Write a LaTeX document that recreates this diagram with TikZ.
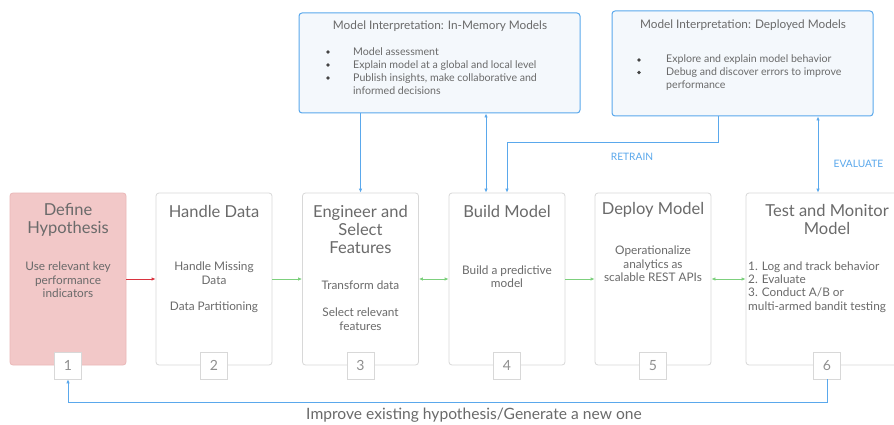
\documentclass[tikz,border=0pt]{standalone}
\usepackage{fontspec}
\setmainfont{Lato}
\usetikzlibrary{arrows.meta}
\definecolor{txt}{HTML}{6A6A6A}
\definecolor{boxline}{HTML}{D8D8D8}
\definecolor{pinkfill}{HTML}{F2C8C8}
\definecolor{pinkline}{HTML}{EAB8B8}
\definecolor{blueline}{HTML}{5AA8EC}
\definecolor{bluefill}{HTML}{F4F8FC}
\definecolor{greenarr}{HTML}{7DD07D}
\definecolor{redarr}{HTML}{D9333F}
\definecolor{bul}{HTML}{444444}
\begin{document}
\begin{tikzpicture}[x=1pt,y=-1pt,
  mainbox/.style={draw=boxline, line width=0.8pt, rounded corners=3pt, fill=white, minimum width=116pt, minimum height=172pt, inner sep=0pt},
  tagbox/.style={draw=boxline, line width=0.8pt, fill=white, minimum size=27pt, inner sep=0pt, text=txt!75, font=\fontsize{14}{14}\selectfont},
  ttl/.style={text=txt, align=center, font=\fontsize{16.5}{18}\selectfont, inner sep=0pt},
  body/.style={text=txt, align=center, font=\fontsize{11.8}{13.5}\selectfont, inner sep=0pt},
  topbox/.style={draw=blueline, line width=1pt, fill=bluefill, rounded corners=3pt, inner sep=0pt},
  toptext/.style={text=txt, align=left, font=\fontsize{10.6}{13}\selectfont, inner sep=0pt, anchor=west},
  toptitle/.style={text=txt, font=\fontsize{11.8}{13}\selectfont, inner sep=0pt},
  bullet/.style={circle, fill=bul, minimum size=3.6pt, inner sep=0pt},
  bluepath/.style={draw=blueline, line width=1pt},
  barrow/.style={bluepath, -{Latex[length=4pt,width=3.5pt]}},
  bdarrow/.style={bluepath, {Latex[length=4pt,width=3.5pt]}-{Latex[length=4pt,width=3.5pt]}},
  garrow/.style={draw=greenarr, line width=1pt, -{Latex[length=4pt,width=3.5pt]}},
  gdarrow/.style={draw=greenarr, line width=1pt, {Latex[length=4pt,width=3.5pt]}-{Latex[length=4pt,width=3.5pt]}},
  blabel/.style={text=blueline, font=\fontsize{10.2}{10}\selectfont, inner sep=0pt}
]
\useasboundingbox (0,0) rectangle (894,425);
\fill[white] (0,0) rectangle (894,425);
\clip (0,0) rectangle (894,425);

% main boxes
\node[mainbox, fill=pinkfill, draw=pinkline] (b1) at (68,279) {};
\node[mainbox] (b2) at (214,279) {};
\node[mainbox] (b3) at (360.5,279) {};
\node[mainbox] (b4) at (507,279) {};
\node[mainbox] (b5) at (653,279) {};
\node[mainbox, minimum width=162pt] (b6) at (827,279) {};

% tags
\node[tagbox] (t1) at (b1.south) {1};
\node[tagbox] (t2) at (b2.south) {2};
\node[tagbox] (t3) at (b3.south) {3};
\node[tagbox] (t4) at (b4.south) {4};
\node[tagbox] (t5) at (b5.south) {5};
\node[tagbox] (t6) at (b6.south) {6};

% texts
\node[ttl] (h1) at (68,220) {Define\\Hypothesis};
\node[body] (d1) at (68,280) {Use relevant key\\performance\\indicators};
\node[ttl] (h2) at (214,211) {Handle Data};
\node[body] (d2a) at (214,273) {Handle Missing\\Data};
\node[body] (d2b) at (214,307) {Data Partitioning};
\node[ttl] (h3) at (360.5,229) {Engineer and\\Select\\Features};
\node[body] (d3a) at (360.5,285) {Transform data};
\node[body] (d3b) at (360.5,319) {Select relevant\\features};
\node[ttl] (h4) at (507,211) {Build Model};
\node[body] (d4) at (507,276.5) {Build a predictive\\model};
\node[ttl] (h5) at (653,210) {Deploy Model};
\node[body] (d5) at (653,264) {Operationalize\\analytics as\\scalable REST APIs};
\node[ttl] (h6) at (827,219.5) {Test and Monitor\\Model};
\node[body, align=left, anchor=west, font=\fontsize{11.8}{13.4}\selectfont] (d6) at (748,287) {1. Log and track behavior\\2. Evaluate\\3. Conduct A/B or\\multi-armed bandit testing};

% arrows between boxes
\draw[draw=redarr, line width=1pt, -{Latex[length=4pt,width=3.5pt]}] (b1.east) -- (b2.west);
\draw[garrow] (b2.east) -- (b3.west);
\draw[gdarrow] (b3.east) -- (b4.west);
\draw[garrow] (b4.east) -- (b5.west);
\draw[gdarrow] (b5.east) -- (b6.west);

% top boxes
\node[topbox, minimum width=281pt, minimum height=100pt] (ta) at (439.5,63) {};
\node[toptitle] (tat) at (440,26) {Model Interpretation: In-Memory Models};
\node[bullet] (ba1) at (328,52) {};
\node[bullet] (ba2) at (328,65) {};
\node[bullet] (ba3) at (328,78) {};
\node[toptext] (tad) at (353,71.5) {Model assessment\\Explain model at a global and local level\\Publish insights, make collaborative and\\informed decisions};

\node[topbox, minimum width=261pt, minimum height=105pt] (tb) at (742.5,63.5) {};
\node[toptitle] (tbt) at (743,25) {Model Interpretation: Deployed Models};
\node[bullet] (bb1) at (639,60) {};
\node[bullet] (bb2) at (639,72.5) {};
\node[toptext] (tbd) at (666,72.5) {Explore and explain model behavior\\Debug and discover errors to improve\\performance};

% connectors
\coordinate (da) at (486,0);
\coordinate (rt) at (718,143);
\coordinate (rl) at (507,143);
\coordinate (ev) at (818,0);
\coordinate (fb) at (0,402);
\draw[barrow] (ta.south -| b3.north) -- (b3.north);
\draw[bdarrow] (ta.south -| da) -- (b4.north -| da);
\draw[barrow] (tb.south -| rt) -- (rt) -- (rl) -- (b4.north);
\draw[bdarrow] (tb.south -| ev) -- (b6.north -| ev);
\draw[barrow] (t6.south) -- (t6.south |- fb) -- (t1.south |- fb) -- (t1.south);

\node[blabel] (lr) at (632,157) {RETRAIN};
\node[blabel] (le) at (858.5,164) {EVALUATE};
\node[text=txt, font=\fontsize{15.6}{15}\selectfont, inner sep=0pt] (lb) at (474,415) {Improve existing hypothesis/Generate a new one};
\end{tikzpicture}
\end{document}
